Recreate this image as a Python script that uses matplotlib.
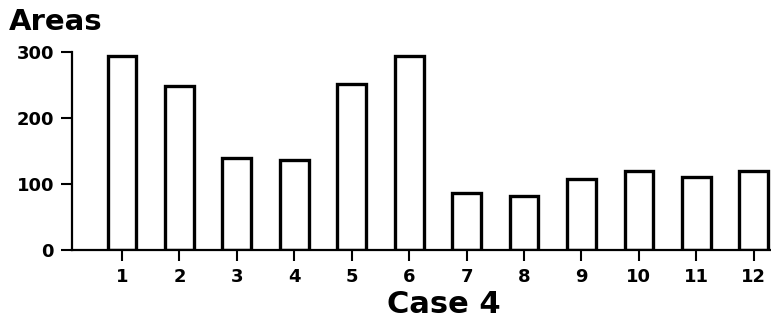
import matplotlib.pyplot as plt

cases = [1, 2, 3, 4, 5, 6, 7, 8, 9, 10, 11, 12]
areas = [294, 248, 139, 136, 251, 294, 86, 81, 107, 120, 110, 120]
y_ticks = [0, 100, 200, 300]

plt.rcParams['font.family'] = ['DejaVu Sans']

fig = plt.figure(figsize=(7.71, 3.2), dpi=100)
ax = fig.add_axes([0.0934, 0.219, 0.9066, 0.6185])

ax.bar(cases, areas, width=0.5, facecolor='white', edgecolor='black', linewidth=2.4)

ax.set_xlim(0.13, 12.3)
ax.set_ylim(0, 300)
ax.set_xticks(cases)
ax.set_yticks(y_ticks)
ax.tick_params(axis='both', direction='out', length=8, width=1.5, labelsize=13)
ax.tick_params(axis='x', pad=5)
ax.tick_params(axis='y', pad=5)
for lab in ax.get_xticklabels() + ax.get_yticklabels():
    lab.set_fontweight('bold')

for side in ['top', 'right']:
    ax.spines[side].set_visible(False)
ax.spines['left'].set_linewidth(1.6)
ax.spines['bottom'].set_linewidth(1.6)
ax.spines['left'].set_bounds(0, 300)

fig.text(0.012, 0.975, 'Areas', fontsize=21, fontweight='bold', va='top', ha='left')
fig.text(0.576, 0.022, 'Case 4', fontsize=22, fontweight='bold', va='baseline', ha='center')

fig.savefig('out.png', dpi=100)
